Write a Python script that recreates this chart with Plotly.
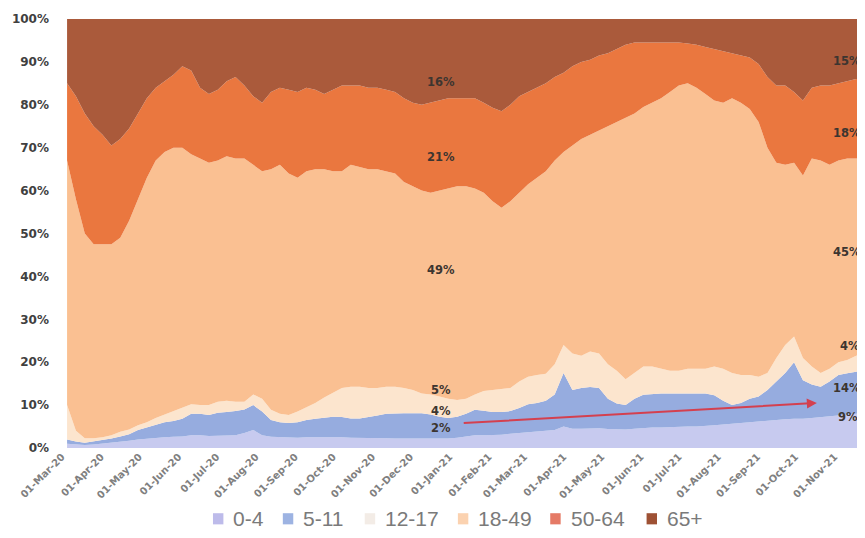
import pandas as pd
import plotly.graph_objects as go

# Weekly dates (x axis)
dates = pd.date_range("2020-03-05", periods=91, freq="7D")

groups = ["0-4", "5-11", "12-17", "18-49", "50-64", "65+"]
colors = ["#c7caef", "#96acdf", "#fce5ce", "#fac092", "#ea773f", "#aa5a3b"]
legend_colors = ["#bdbbea", "#9db3e2", "#f3ece6", "#fbd2b0", "#e57a66", "#9e5134"]

age_0_4 = [1, 0.8, 0.7, 0.8, 1, 1.2, 1.5, 1.7, 2, 2.2, 2.4, 2.5, 2.6, 2.7, 3, 3, 2.8, 2.8, 2.9, 3,
           3.5, 4.2, 3, 2.6, 2.5, 2.4, 2.4, 2.5, 2.5, 2.6, 2.6, 2.5, 2.4, 2.4, 2.4, 2.3, 2.3, 2.2, 2.2, 2.2,
           2.1, 2.1, 2.1, 2.2, 2.4, 2.7, 3, 3, 3, 3.1, 3.3, 3.5, 3.7, 3.8, 4, 4.2, 5, 4.5, 4.5, 4.5,
           4.6, 4.4, 4.3, 4.3, 4.5, 4.7, 4.8, 4.8, 4.9, 5, 5, 5, 5.1, 5.3, 5.5, 5.6, 5.8, 6, 6.2, 6.3,
           6.5, 6.7, 6.8, 6.8, 7, 7.2, 7.5, 7.7, 7.9, 8, 8]
age_5_11 = [1, 0.7, 0.5, 0.7, 0.8, 1, 1.2, 1.5, 2.2, 2.6, 3.1, 3.5, 3.7, 4.1, 5, 5, 4.9, 5.4, 5.5, 5.6,
            5.5, 5.8, 5.5, 3.9, 3.5, 3.4, 3.6, 4, 4.3, 4.4, 4.7, 4.7, 4.5, 4.5, 4.8, 5.3, 5.7, 5.9, 5.9, 5.9,
            6, 5.7, 5.2, 4.8, 4.9, 5.3, 5.9, 5.7, 5.4, 5.3, 5.3, 5.8, 6.5, 6.7, 7, 8.3, 12.5, 9, 9.5, 9.7,
            9.4, 7.1, 6.1, 5.7, 7, 7.7, 7.8, 7.9, 7.8, 7.7, 7.7, 7.7, 7.6, 7, 5.5, 4.4, 4.7, 5.5, 5.8, 7.2,
            9, 10.8, 13.2, 9, 7.8, 7.1, 8, 9.3, 9.5, 9.8, 10]
age_12_17 = [8, 2.5, 1.1, 0.8, 0.7, 0.8, 1.1, 1.1, 1.1, 1.2, 1.5, 1.8, 2.2, 2.5, 2.2, 2, 2.3, 2.6, 2.6, 2.2,
             1.8, 2.5, 3, 2.4, 2, 1.9, 2.5, 3, 3.7, 4.8, 5.7, 6.8, 7.4, 7.4, 6.8, 6.4, 6.3, 6.2, 5.9, 5.4,
             4.6, 4.7, 4.7, 4.5, 3.9, 3.5, 3.6, 4.6, 5.1, 5.4, 5.4, 6.2, 6.4, 6.5, 6.3, 7, 6.5, 8.5, 7.5, 8.3,
             8, 8, 7.6, 6, 6, 6.6, 6.4, 5.8, 5.3, 5.3, 5.8, 5.8, 5.8, 6.7, 7.5, 7.5, 6.5, 5.5, 4.6, 4,
             5.5, 6.5, 6, 5.2, 4.2, 3.2, 3, 3, 3.1, 3.7, 4]
age_18_49 = [57, 54, 47.7, 45.2, 45, 44.5, 45.2, 48.7, 52.7, 57, 60, 61.2, 61.5, 60.7, 58.3, 57.5, 56.5, 56.2, 57, 56.7,
             56.7, 53.5, 53, 56.1, 58, 56.3, 54.5, 55, 54.5, 53.2, 51.5, 50.5, 51.7, 51.2, 51, 51, 50.2, 49.7, 48, 47.5,
             47.3, 47, 48, 49, 49.8, 49.5, 48, 46.2, 44, 42.2, 43.5, 44, 44.9, 46, 47.2, 47.5, 45, 48.5, 50.5, 50.5,
             52, 55.5, 58, 61, 60.5, 60.5, 61.5, 63, 65, 66.5, 66.5, 65.5, 64, 62, 62, 64, 63.5, 62, 59.4, 52.5,
             45.5, 42, 40.5, 42.5, 48.5, 49.5, 47.5, 47, 47, 46, 45.5]
age_50_64 = [18, 24, 28, 27.5, 25.5, 23, 23, 21.5, 20, 18.5, 17, 16.5, 17, 19, 19.5, 16.5, 16, 16.5, 17.5, 19,
             17, 16, 16, 18, 18, 19.5, 20, 19.5, 18.5, 17.5, 19, 20, 18.5, 19, 19, 19, 19, 19, 19.5, 19.5,
             20, 21, 21, 21, 20.5, 20.5, 21, 21, 21.8, 22.5, 22.5, 22.5, 21.5, 21, 20.5, 19.5, 18.5, 18.5, 18, 17.5,
             17.5, 17, 17, 17, 16.5, 15, 14, 13, 11.5, 10, 9.3, 10, 11, 12, 12, 10.5, 11, 12, 13.5, 16.5,
             18, 18.5, 16.5, 17.5, 16.5, 17.5, 18.5, 18, 18, 18.5, 18.5]
age_65p = [15, 18, 22, 25, 27, 29.5, 28, 25.5, 22, 18.5, 16, 14.5, 13, 11, 12, 16, 17.5, 16.5, 14.5, 13.5,
           15.5, 18, 19.5, 17, 16, 16.5, 17, 16, 16.5, 17.5, 16.5, 15.5, 15.5, 15.5, 16, 16, 16.5, 17, 18.5, 19.5,
           20, 19.5, 19, 18.5, 18.5, 18.5, 18.5, 19.5, 20.7, 21.5, 20, 18, 17, 16, 15, 13.5, 12.5, 11, 10, 9.5,
           8.5, 8, 7, 6, 5.5, 5.5, 5.5, 5.5, 5.5, 5.5, 5.7, 6, 6.5, 7, 7.5, 8, 8.5, 9, 10.5, 13.5,
           15.5, 15.5, 17, 19, 16, 15.5, 15.5, 15, 14.5, 14, 14]

series = [age_0_4, age_5_11, age_12_17, age_18_49, age_50_64, age_65p]

# Data labels (text, paper x, paper y, horizontal anchor)
label_texts = ["16%", "21%", "49%", "5%", "4%", "2%", "15%", "18%", "45%", "4%", "14%", "9%"]
label_x = [0.472, 0.472, 0.472, 0.472, 0.472, 0.472, 0.997, 0.997, 0.997, 0.996, 0.997, 0.994]
label_y = [0.874, 0.699, 0.415, 0.114, 0.065, 0.026, 0.923, 0.755, 0.457, 0.217, 0.119, 0.051]
label_anchor = ["center"] * 6 + ["right"] * 6

# Legend entry positions (paper x of swatch), drawn manually
legend_x = [0.188, 0.275, 0.377, 0.493, 0.608, 0.728]
legend_y = -0.165

# Trend arrow (date, percent)
arrow_start = ("2021-01-11", 5.8)
arrow_end = ("2021-10-18", 10.5)

fig = go.Figure()
for name, vals, col in zip(groups, series, colors):
    fig.add_trace(go.Scatter(
        x=dates, y=vals, name=name, mode="lines",
        stackgroup="one", groupnorm="percent",
        line=dict(width=0, color=col), fillcolor=col, showlegend=False,
    ))

for t, lx, ly, anc in zip(label_texts, label_x, label_y, label_anchor):
    fig.add_annotation(x=lx, y=ly, xref="paper", yref="paper", text=t, showarrow=False,
                       xanchor=anc,
                       font=dict(family="DejaVu Sans", size=11.5, color="#3c3530", weight="bold"))

fig.add_annotation(x=arrow_end[0], y=arrow_end[1], ax=arrow_start[0], ay=arrow_start[1],
                   xref="x", yref="y", axref="x", ayref="y", text="", showarrow=True,
                   arrowhead=2, arrowsize=1, arrowwidth=2, arrowcolor="#d4404f")

# Manual legend: swatches + text
for name, lx, col in zip(groups, legend_x, legend_colors):
    fig.add_shape(type="rect", xref="paper", yref="paper",
                  x0=lx, x1=lx + 0.013, y0=legend_y - 0.013, y1=legend_y + 0.013,
                  fillcolor=col, line=dict(width=0))
    fig.add_annotation(x=lx + 0.023, y=legend_y, xref="paper", yref="paper", text=name,
                       showarrow=False, xanchor="left", yanchor="middle",
                       font=dict(family="Liberation Sans", size=21, color="#7a7a7a"))

# page body has an 8px default margin, so the figure is 857x530
fig.update_layout(
    width=857, height=530,
    margin=dict(l=54, r=0, t=11, b=90),
    paper_bgcolor="white", plot_bgcolor="white",
    showlegend=False,
    xaxis=dict(type="date", range=["2020-03-01", "2021-11-25"], tick0="2020-03-01", dtick="M1",
               tickformat="%d-%b-%y", tickangle=-45, showgrid=False, showline=False, zeroline=False,
               automargin=False,
               tickfont=dict(family="DejaVu Sans", size=10, color="#808080", weight="bold")),
    yaxis=dict(range=[0, 100], dtick=10, ticksuffix="%", showgrid=False, showline=False, zeroline=False,
               automargin=False, ticklabelstandoff=12,
               tickfont=dict(family="DejaVu Sans", size=12, color="#404040", weight="bold")),
)

fig.write_html("out.html")
